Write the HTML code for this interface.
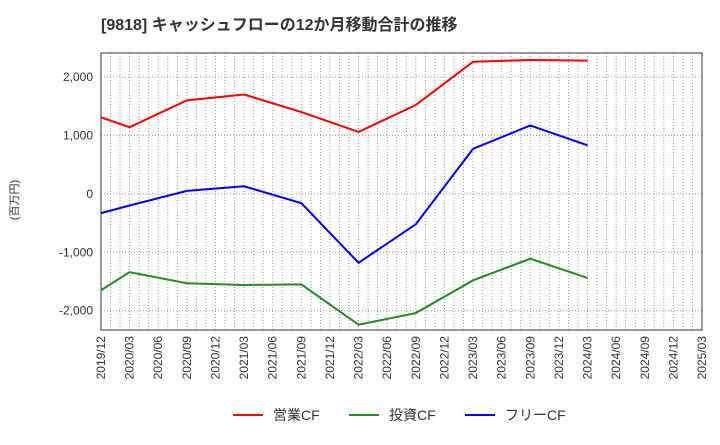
<!DOCTYPE html>
<html><head><meta charset="utf-8"><style>
body{margin:0;background:#fff;font-family:"Liberation Sans","Noto Sans CJK JP",sans-serif;}
</style></head><body>
<svg id="c" width="720" height="440" xmlns="http://www.w3.org/2000/svg">
<text x="101" y="30" font-size="16" font-weight="bold" fill="#333">[9818]  キャッシュフローの12か月移動合計の推移</text>
<text transform="translate(18,200) rotate(-90)" font-size="11" fill="#333" text-anchor="middle">(百万円)</text>
<g id="grid"></g><g id="axes"></g><g id="series"></g><g id="legend"></g>
</svg>
<script>
const xTicks=["2019/12","2020/03","2020/06","2020/09","2020/12","2021/03","2021/06","2021/09","2021/12","2022/03","2022/06","2022/09","2022/12","2023/03","2023/06","2023/09","2023/12","2024/03","2024/06","2024/09","2024/12","2025/03"];
const yTicks=[-2000,-1000,0,1000,2000];
const yTickLabels=["-2,000","-1,000","0","1,000","2,000"];
const pointIdx=[0,1,3,5,7,9,11,13,15,17];
const opCF=[1310,1140,1600,1700,1400,1060,1520,2260,2290,2280];
const invCF=[-1650,-1340,-1530,-1560,-1550,-2240,-2040,-1480,-1110,-1440];
const freeCF=[-330,-200,50,130,-160,-1180,-520,770,1170,830];
const seriesNames=["営業CF","投資CF","フリーCF"];
const L=101,R=702,T=53,B=330,yMin=-2330,yMax=2410;
const NS="http://www.w3.org/2000/svg";
const X=i=>L+(R-L)*i/(xTicks.length-1);
const Y=v=>B-(v-yMin)/(yMax-yMin)*(B-T);
function mk(t,a,p){const e=document.createElementNS(NS,t);for(const k in a)e.setAttribute(k,a[k]);p.appendChild(e);return e;}
const g=document.getElementById('grid'),ax=document.getElementById('axes'),s=document.getElementById('series'),lg=document.getElementById('legend');
for(let m=1;m<(xTicks.length-1)*3;m++){const x=L+(R-L)*m/((xTicks.length-1)*3);
const l=mk('line',{x1:x,x2:x,y1:T,y2:B,stroke:'#999','stroke-dasharray':'1,2'},g);
}
yTicks.forEach((v,i)=>{const y=Y(v);
const l=mk('line',{x1:L,x2:R,y1:y,y2:y,stroke:'#999','stroke-dasharray':'1,2'},g);

const t=mk('text',{x:L-8,y:y+4,'font-size':12,fill:'#333','text-anchor':'end'},ax);t.textContent=yTickLabels[i];
});
const fr=mk('rect',{x:L,y:T,width:R-L,height:B-T,fill:'none',stroke:'#333'},ax);

xTicks.forEach((lab,i)=>{const x=X(i);
const t=mk('text',{transform:`translate(${x+4},${B+6}) rotate(-90)`,'font-size':12,fill:'#333','text-anchor':'end'},ax);t.textContent=lab;
});
const colors=["#f00","#228b22","#00f"];
[opCF,invCF,freeCF].forEach((d,k)=>{
const p=mk('polyline',{points:d.map((v,i)=>X(pointIdx[i])+','+Y(v)).join(' '),fill:'none',stroke:colors[k],'stroke-width':2},s);

const lx=[233,349,465][k];
const gl=mk('g',{},lg);
mk('line',{x1:lx,x2:lx+30,y1:415,y2:415,stroke:colors[k],'stroke-width':2},gl);
const t=mk('text',{x:lx+40,y:420,'font-size':14,fill:'#333'},gl);t.textContent=seriesNames[k];});
</script>
</body></html>
